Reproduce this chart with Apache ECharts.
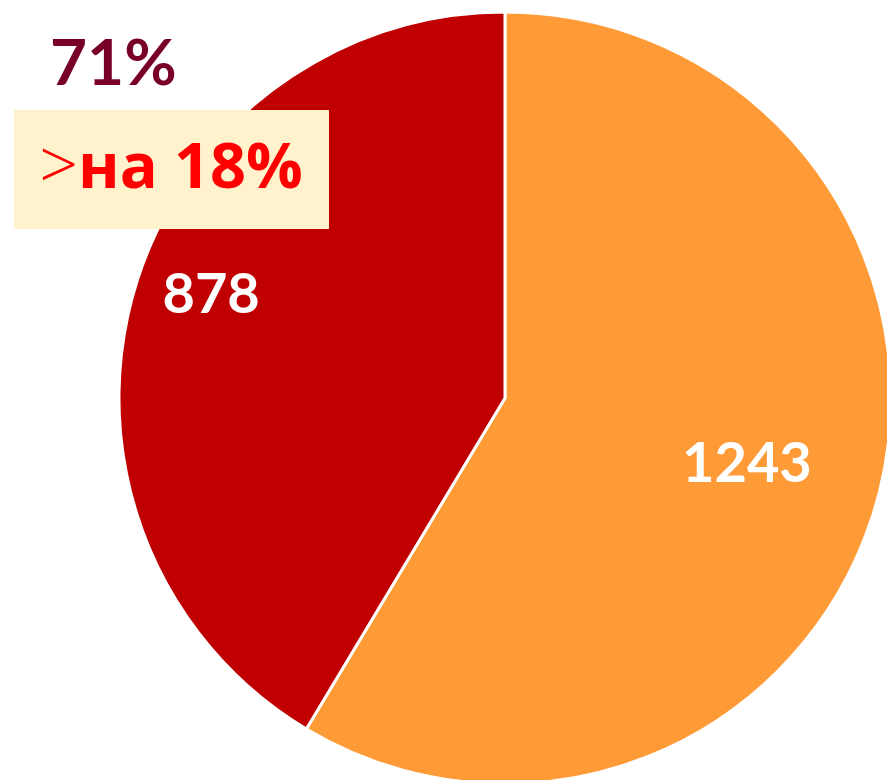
<!DOCTYPE html>
<html>
<head>
<meta charset="utf-8">
<script src="https://cdn.jsdelivr.net/npm/echarts@6/dist/echarts.min.js"></script>
<style>
  html, body { margin: 0; padding: 0; background: #fff; }
  #chart { width: 887px; height: 780px; }
</style>
</head>
<body>
<div id="chart"></div>
<script>
const categories = ['A', 'B']
const values = [1243, 878]
const colors = ['#FF9B37', '#C00000']
const shareText = '71%'
const diffText = 'на 18%'

const chart = echarts.init(document.getElementById('chart'))

// label nudges so the numbers sit where the original puts them
const labelOffsets = [[53, 14], [-105, -51]]

chart.setOption({
  animation: false,
  series: [{
    type: 'pie',
    center: [505, 398],
    radius: 386,
    startAngle: 90,
    clockwise: true,
    silent: true,
    itemStyle: {
      borderColor: '#fff',
      borderWidth: 3
    },
    label: {
      show: true,
      position: 'inside',
      color: '#fff',
      fontFamily: 'Lato, "Open Sans", sans-serif',
      fontWeight: 'bold',
      fontSize: 56,
      formatter: '{c}'
    },
    labelLine: { show: false },
    data: categories.map((name, i) => ({
      name: name,
      value: values[i],
      itemStyle: { color: colors[i] },
      label: { offset: labelOffsets[i] }
    }))
  }],
  graphic: [
    {
      type: 'text',
      left: 50,
      top: 32,
      z: 100,
      style: {
        text: shareText,
        fill: '#780028',
        font: 'bold 64px Lato, "Open Sans", sans-serif'
      }
    },
    {
      type: 'rect',
      z: 100,
      shape: { x: 14, y: 110, width: 315, height: 119 },
      style: { fill: '#FFF2CC' }
    },
    {
      type: 'text',
      x: 171,
      y: 170,
      z: 101,
      style: {
        text: '{a|>}{b|' + diffText + '}',
        align: 'center',
        verticalAlign: 'middle',
        rich: {
          a: { fill: '#FF0000', fontSize: 68, fontFamily: '"Open Sans", sans-serif', fontWeight: 300 },
          b: { fill: '#FF0000', fontSize: 63, fontFamily: '"Open Sans", sans-serif', fontWeight: 'bold' }
        }
      }
    }
  ]
})
</script>
</body>
</html>
